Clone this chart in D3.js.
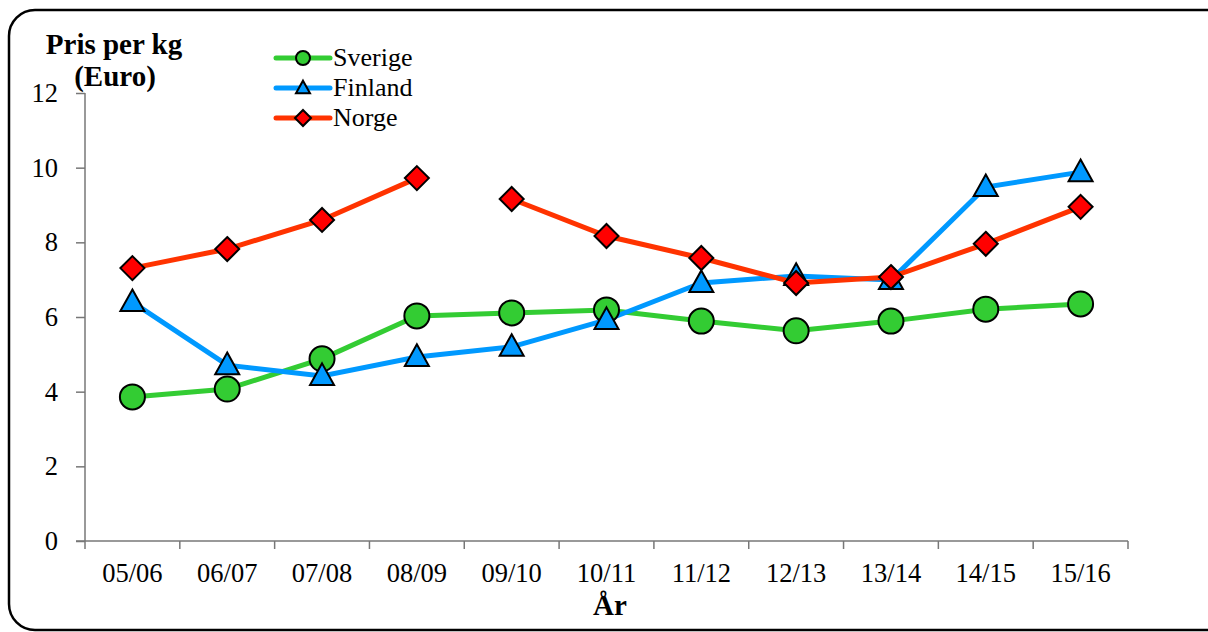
<!DOCTYPE html>
<html><head><meta charset="utf-8">
<script src="https://cdn.jsdelivr.net/npm/d3@7"></script>
<style>body{margin:0;background:#fff}svg{display:block}text{font-family:"Liberation Serif","Times New Roman",serif}</style>
</head><body><svg id="c" width="1208" height="632"></svg>
<script>
const categories = ["05/06","06/07","07/08","08/09","09/10","10/11","11/12","12/13","13/14","14/15","15/16"];
const sverige = [3.86,4.07,4.88,6.03,6.11,6.19,5.89,5.63,5.89,6.21,6.35];
const finland = [6.40,4.71,4.42,4.93,5.20,5.92,6.91,7.10,6.99,9.48,9.88];
const norge   = [7.31,7.82,8.60,9.72,9.16,8.17,7.58,6.91,7.07,7.96,8.95];
const norgeBreakAfter = "08/09";
const yTicks = [0,2,4,6,8,10,12];
const seriesNames = ["Sverige","Finland","Norge"];

const svg = d3.select("#c");
svg.append("rect").attr("x",9).attr("y",10).attr("width",1230).attr("height",620)
  .attr("rx",26).attr("fill","none").attr("stroke","#000").attr("stroke-width",2.5);

const x = d3.scaleBand().domain(categories).range([85,1128]);
const y = d3.scaleLinear().domain([0,12]).range([541,93]);
const cx = c => x(c) + x.bandwidth()/2;

const FF = "Liberation Serif";
// y axis
const ya = svg.append("g").attr("transform","translate(85,0)")
  .call(d3.axisLeft(y).tickValues(yTicks).tickSize(9).tickPadding(18));
ya.select(".domain").attr("stroke","#777").attr("stroke-width",1.5).attr("d","M0,93V541");
ya.selectAll(".tick line").attr("stroke","#777").attr("stroke-width",1.5);
ya.selectAll("text").attr("font-size",26.5).attr("fill","#000").attr("font-family",FF);

// x axis
const xa = svg.append("g").attr("transform","translate(0,541)")
  .call(d3.axisBottom(x).tickSize(0).tickPadding(22));
xa.select(".domain").attr("stroke","#777").attr("stroke-width",1.5).attr("d","M76,0H1128");
xa.selectAll("text").attr("font-size",26.5).attr("fill","#000").attr("font-family",FF);
const bounds = categories.map(c=>x(c)).concat([x(categories[categories.length-1])+x.bandwidth()]);
xa.selectAll(".bt").data(bounds).enter().append("line").attr("class","bt")
  .attr("x1",d=>d).attr("x2",d=>d).attr("y1",0).attr("y2",8).attr("stroke","#777").attr("stroke-width",1.5);

// titles
svg.append("text").attr("x",114).attr("y",54).attr("text-anchor","middle").attr("font-size",29).attr("font-weight","bold").text("Pris per kg");
svg.append("text").attr("x",115).attr("y",86).attr("text-anchor","middle").attr("font-size",29).attr("font-weight","bold").text("(Euro)");
svg.append("text").attr("x",610).attr("y",615).attr("text-anchor","middle").attr("font-size",29).attr("font-weight","bold").text("År");

const line = d3.line().x(d=>cx(d.c)).y(d=>y(d.v));
const toPts = arr => categories.map((c,i)=>({c, v:arr[i]}));

const green="#33CC33", blue="#0099FF", orange="#FF3300", red="#FF0000";

const sPts = toPts(sverige), fPts = toPts(finland), nPts = toPts(norge);
const bi = categories.indexOf(norgeBreakAfter);
const nSegs = [nPts.slice(0,bi+1), nPts.slice(bi+1)];

svg.append("path").attr("d",line(sPts)).attr("fill","none").attr("stroke",green).attr("stroke-width",5);
svg.append("path").attr("d",line(fPts)).attr("fill","none").attr("stroke",blue).attr("stroke-width",5);
nSegs.forEach(s=>svg.append("path").attr("d",line(s)).attr("fill","none").attr("stroke",orange).attr("stroke-width",5));

function circleM(g,px,py,r){g.append("circle").attr("cx",px).attr("cy",py).attr("r",r).attr("fill",green).attr("stroke","#000").attr("stroke-width",2);}
function triM(g,px,py,s){g.append("path").attr("d",`M${px},${py-s*1.05}L${px+s},${py+s*0.75}L${px-s},${py+s*0.75}Z`).attr("fill",blue).attr("stroke","#000").attr("stroke-width",2).attr("stroke-linejoin","miter");}
function diaM(g,px,py,s){g.append("path").attr("d",`M${px},${py-s}L${px+s},${py}L${px},${py+s}L${px-s},${py}Z`).attr("fill",red).attr("stroke","#000").attr("stroke-width",2);}

const mg = svg.append("g");
sPts.forEach(d=>circleM(mg,cx(d.c),y(d.v),12.5));
fPts.forEach(d=>triM(mg,cx(d.c),y(d.v),12));
nPts.forEach(d=>diaM(mg,cx(d.c),y(d.v),12));

// legend
const lg = svg.append("g");
const lc = [green,blue,orange];
seriesNames.forEach((n,i)=>{
  const ly = 58 + i*30;
  lg.append("line").attr("x1",276).attr("x2",330).attr("y1",ly).attr("y2",ly).attr("stroke",lc[i]).attr("stroke-width",5).attr("stroke-linecap","round");
  if(i===0) circleM(lg,303,ly,7);
  if(i===1) triM(lg,303,ly,7);
  if(i===2) diaM(lg,303,ly,8);
  lg.append("text").attr("x",333).attr("y",ly+8).attr("font-size",26).text(n);
});
</script></body></html>
